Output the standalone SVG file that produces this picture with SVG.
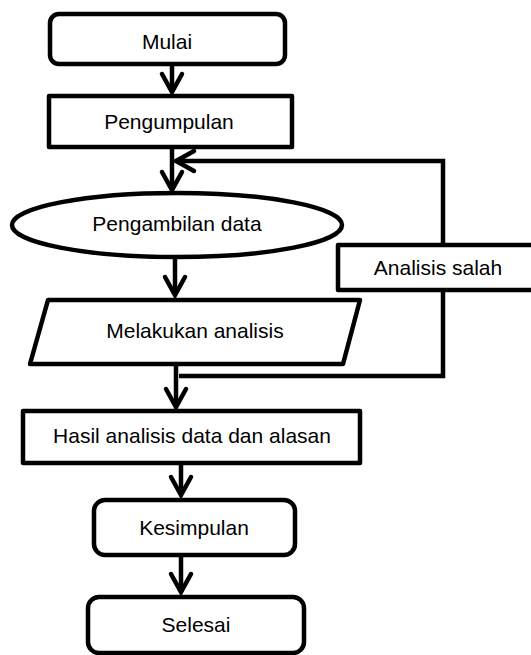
<svg xmlns="http://www.w3.org/2000/svg" width="531" height="655" viewBox="0 0 531 655">
<style>
.s{fill:#fff;stroke:#000;stroke-width:4.5;stroke-linejoin:round}
.t{font-family:"Liberation Sans",Arial,sans-serif;font-size:21px;fill:#000;text-anchor:middle}
.c{fill:none;stroke:#000;stroke-width:4.5;stroke-linejoin:miter}
</style>
<defs>
<marker id="arr" markerUnits="userSpaceOnUse" viewBox="-24 -14 30 28" refX="0" refY="0" markerWidth="30" markerHeight="28" orient="auto" overflow="visible">
<path d="M-18,-10 L0,0 L-18,10" fill="none" stroke="#000" stroke-width="4.5" stroke-linecap="round" stroke-linejoin="miter"/>
</marker>
</defs>
<rect width="531" height="655" fill="#fff"/>
<g id="n-analisis-salah">
<rect class="s" x="338" y="245" width="215" height="45"/>
<text class="t" x="438" y="275">Analisis salah</text>
</g>
<g id="connectors">
<path class="c" d="M172,64 V92" marker-end="url(#arr)"/>
<path class="c" d="M172,147 V190" marker-end="url(#arr)"/>
<path class="c" d="M443,245 V161 H176" marker-end="url(#arr)"/>
<path class="c" d="M443,290 V376 H179"/>
<path class="c" d="M175,258 V295" marker-end="url(#arr)"/>
<path class="c" d="M176,364 V407" marker-end="url(#arr)"/>
<path class="c" d="M181,463 V495" marker-end="url(#arr)"/>
<path class="c" d="M181,555 V592" marker-end="url(#arr)"/>
</g>
<g id="n-mulai">
<rect class="s" x="50" y="14" width="235" height="50" rx="9"/>
<text class="t" x="167" y="49">Mulai</text>
</g>
<g id="n-pengumpulan">
<rect class="s" x="49" y="96" width="243" height="51"/>
<text class="t" x="169" y="129">Pengumpulan</text>
</g>
<g id="n-pengambilan">
<ellipse class="s" cx="177" cy="225" rx="165" ry="32"/>
<text class="t" x="177" y="231">Pengambilan data</text>
</g>
<g id="n-melakukan">
<polygon class="s" points="48,300 360,300 343,364 30,364"/>
<text class="t" x="195" y="338">Melakukan analisis</text>
</g>
<g id="n-hasil">
<rect class="s" x="23" y="411" width="337" height="52"/>
<text class="t" x="192" y="443">Hasil analisis data dan alasan</text>
</g>
<g id="n-kesimpulan">
<rect class="s" x="94" y="500" width="201" height="55" rx="11"/>
<text class="t" x="194" y="535">Kesimpulan</text>
</g>
<g id="n-selesai">
<rect class="s" x="88" y="597" width="216" height="56" rx="11"/>
<text class="t" x="196" y="632">Selesai</text>
</g>
</svg>
